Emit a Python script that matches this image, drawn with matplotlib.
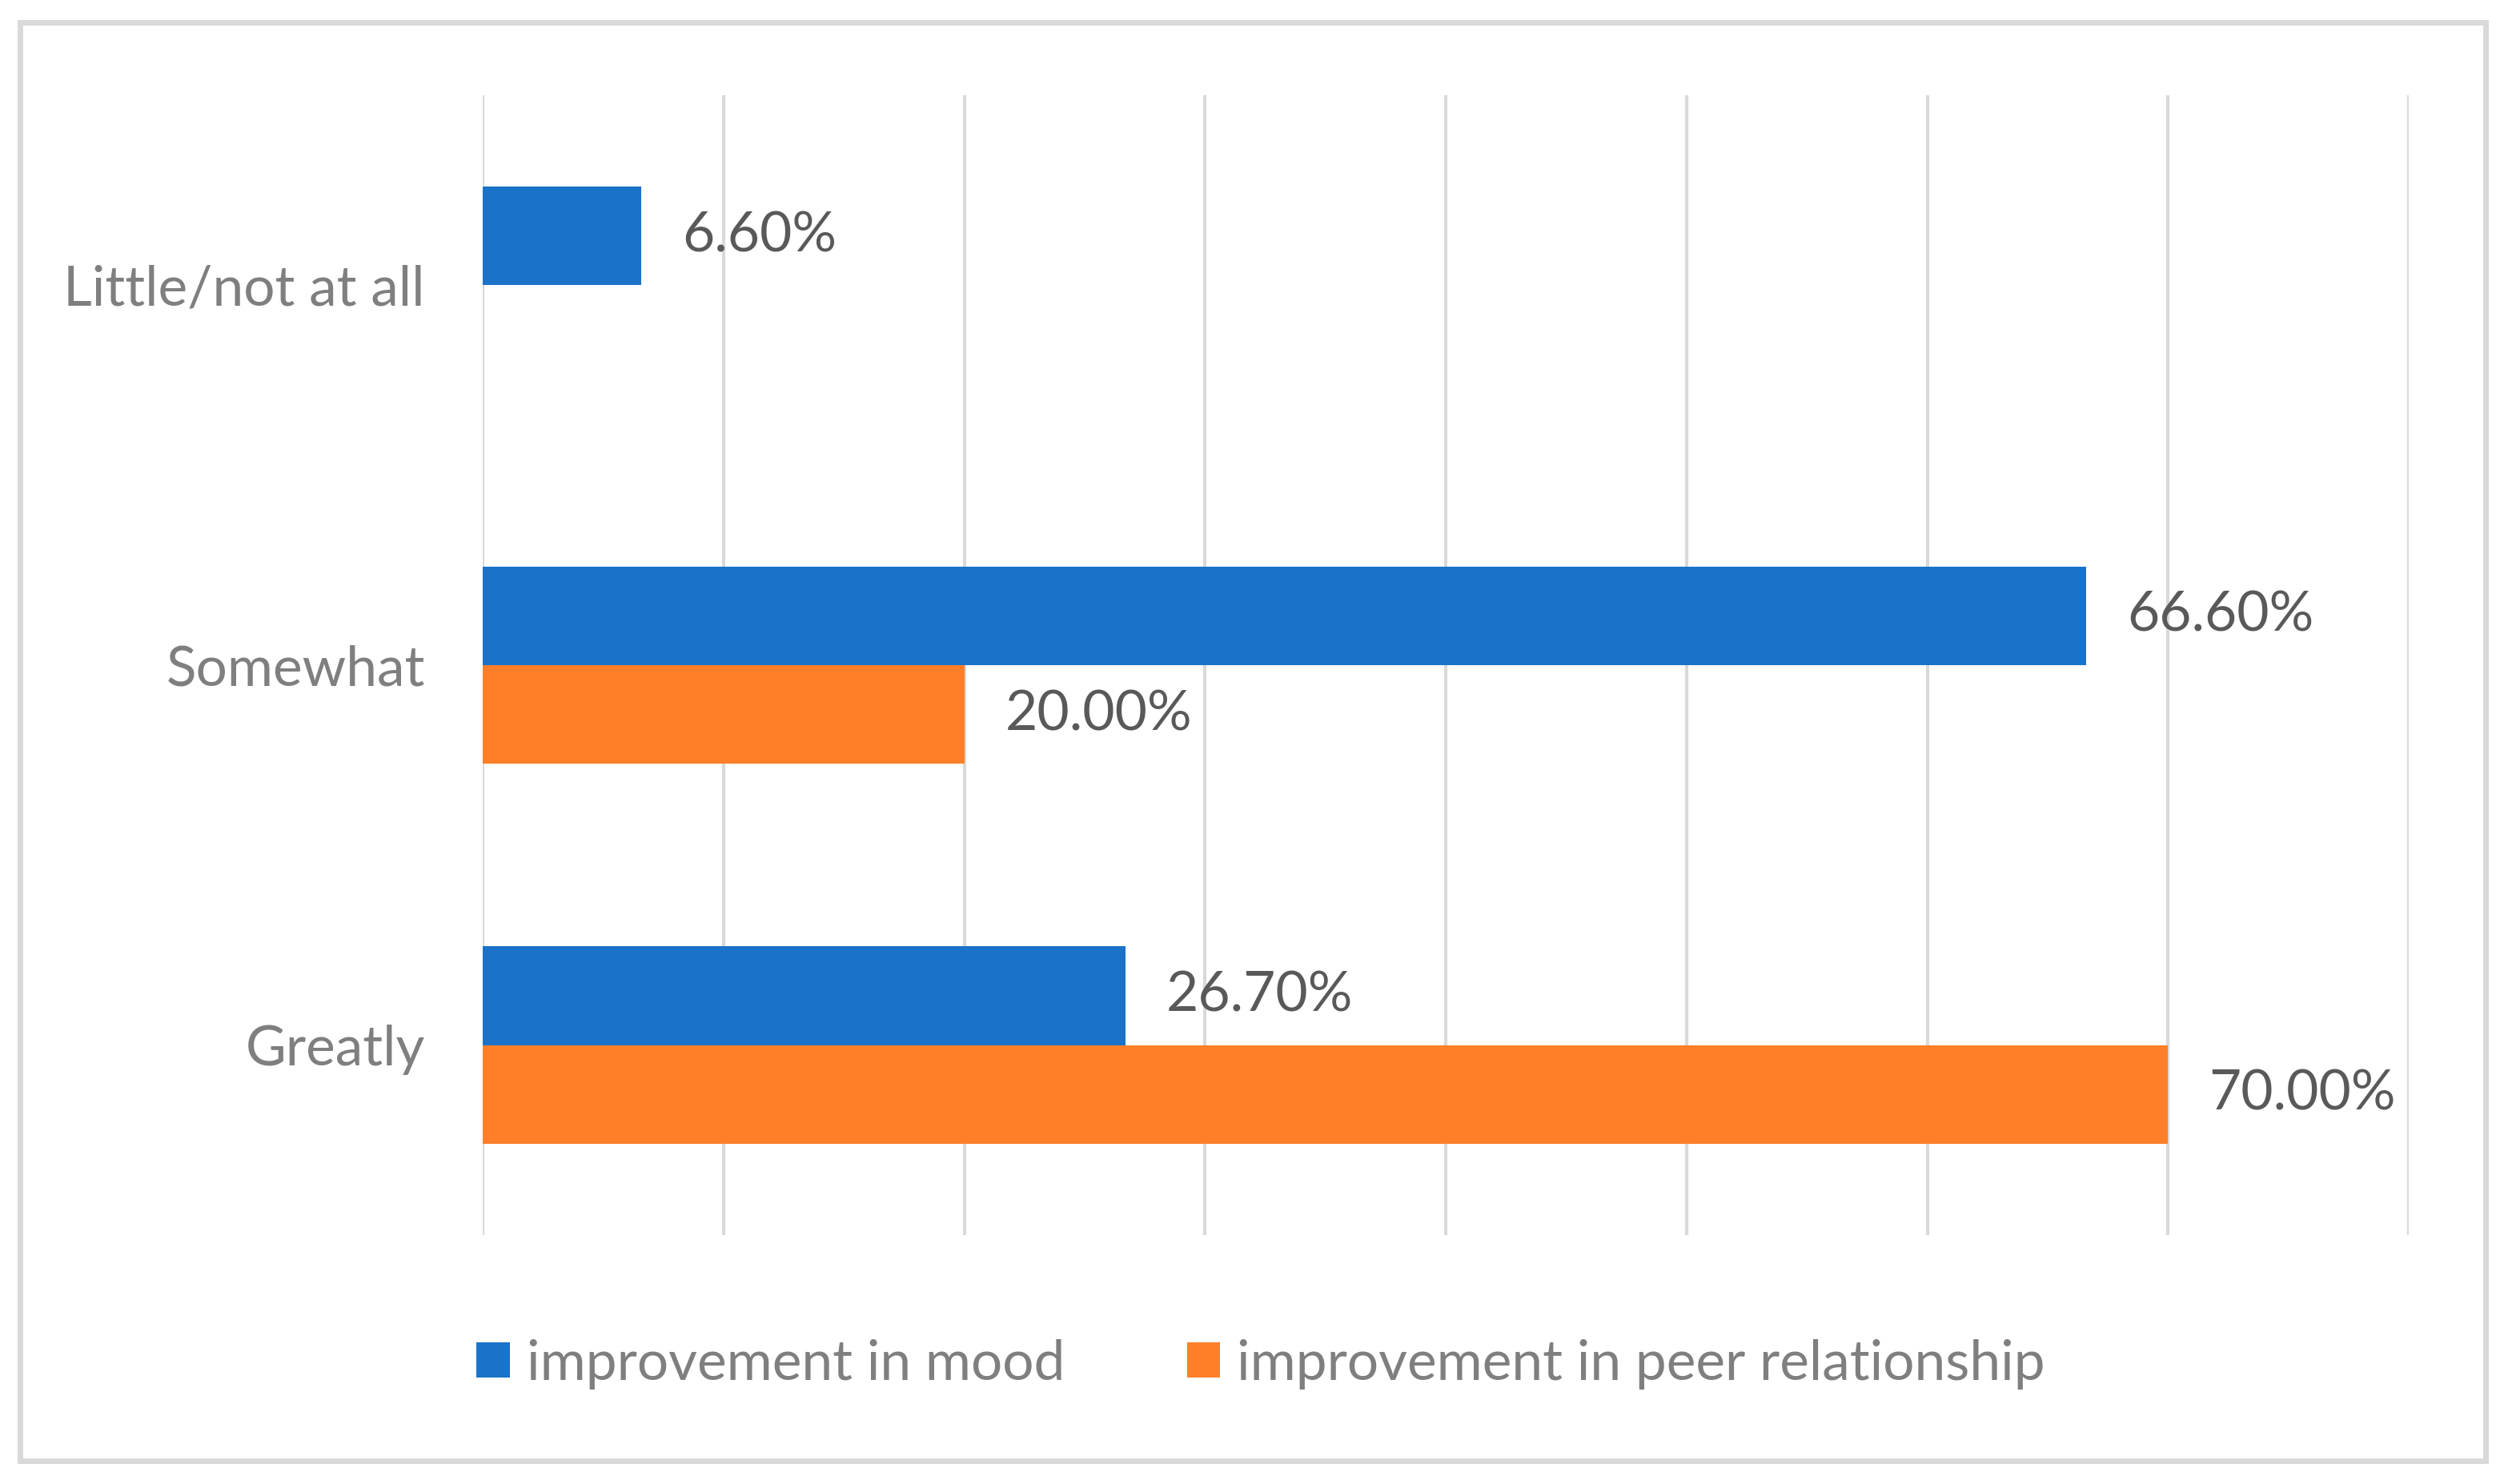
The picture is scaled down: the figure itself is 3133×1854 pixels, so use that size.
import matplotlib
matplotlib.use("Agg")
import matplotlib.pyplot as plt
from matplotlib.patches import Rectangle, Patch

plt.rcParams['font.family'] = ['Lato', 'DejaVu Sans']

categories = ['Greatly', 'Somewhat', 'Little/not at all']
mood = [26.7, 66.6, 6.6]
peer = [70.0, 20.0, None]
series_names = ['improvement in mood', 'improvement in peer relationship']
colors = ['#1a73c8', '#fe7f27']

W, H = 3133, 1854
fig = plt.figure(figsize=(W / 100, H / 100), dpi=100)
ax = fig.add_axes([603 / W, 1 - 1543 / H, 2406 / W, 1424 / H])

bar_h = 0.26
ypos = list(range(len(categories)))
for i, (m, p) in enumerate(zip(mood, peer)):
    ax.barh(i + bar_h / 2, m, height=bar_h, color=colors[0], zorder=3)
    ax.text(m + 1.7, i + bar_h / 2, f"{m:.2f}%", va='center', ha='left',
            fontsize=50, color='#595959')
    if p is not None:
        ax.barh(i - bar_h / 2, p, height=bar_h, color=colors[1], zorder=3)
        ax.text(p + 1.7, i - bar_h / 2, f"{p:.2f}%", va='center', ha='left',
                fontsize=50, color='#595959')

ax.set_xlim(0, 80)
ax.set_ylim(-0.5, 2.5)
ax.set_xticks(range(0, 81, 10))
ax.set_xticklabels([])
ax.set_yticks(ypos)
ax.set_yticklabels(categories, fontsize=50, color='#7f7f7f')
ax.tick_params(axis='both', length=0)
ax.tick_params(axis='y', pad=52)
ax.grid(axis='x', color='#d9d9d9', linewidth=3.0, zorder=0)
ax.set_axisbelow(True)
for s in ax.spines.values():
    s.set_visible(False)

handles = [Patch(facecolor=c, edgecolor='none') for c in colors]
fig.legend(handles, series_names, loc='center', bbox_to_anchor=(1575 / W, 1 - 1704 / H),
           ncol=2, frameon=False, fontsize=50, labelcolor='#7f7f7f',
           handlelength=0.6, handleheight=0.6, handletextpad=0.3, columnspacing=2.2)

fig.patches.append(Rectangle((25 / W, 1 - 1825 / H), 3080 / W, 1797 / H,
                             transform=fig.transFigure, fill=False,
                             edgecolor='#d9d9d9', linewidth=5))

fig.savefig('out.png', dpi=100)
